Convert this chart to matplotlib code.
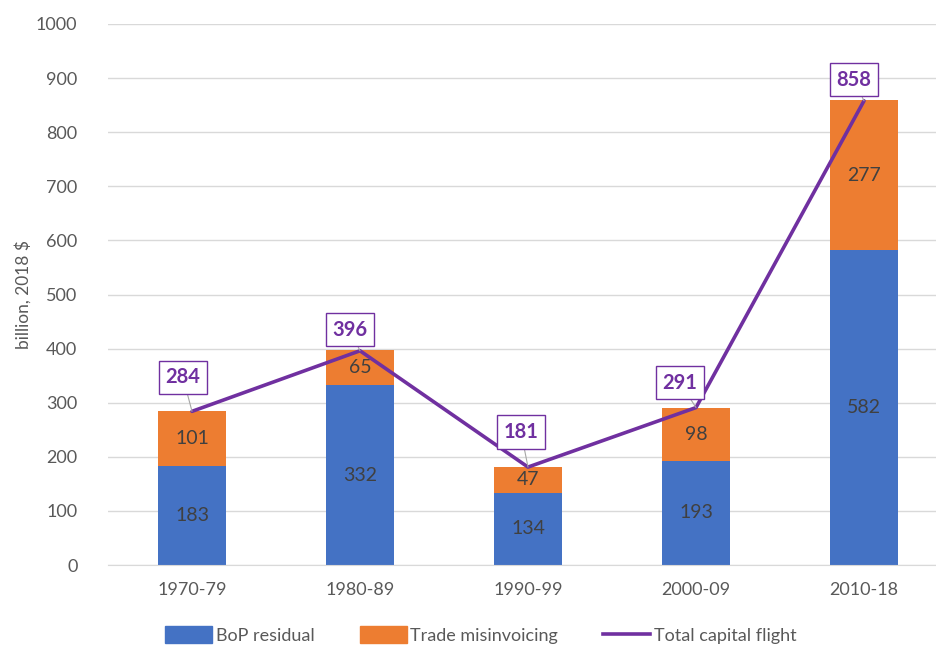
import numpy as np
import matplotlib
matplotlib.use("Agg")
import matplotlib.pyplot as plt
from matplotlib.patches import Patch
from matplotlib.lines import Line2D

# Data
periods = ["1970-79", "1980-89", "1990-99", "2000-09", "2010-18"]
bop_residual = [183, 332, 134, 193, 582]
trade_misinvoicing = [101, 65, 47, 98, 277]
total_flight = [284, 396, 181, 291, 858]

# label box offsets (pixels) relative to line points
label_dx = [-9, -10, -7, -16, -10]
label_dy = [34, 21, 35, 25, 21]

blue = "#4472C4"
orange = "#ED7D31"
purple = "#7030A0"
grey_txt = "#595959"

plt.rcParams["font.family"] = ["Lato", "DejaVu Sans"]

fig = plt.figure(figsize=(9.36, 6.47), dpi=100)
ax = fig.add_axes([108 / 936, 1 - 565 / 647, 1 - 108 / 936, (565 - 24) / 647])

x = np.arange(len(periods))
w = 68 / 168
b1 = ax.bar(x, bop_residual, w, color=blue, zorder=2)
b2 = ax.bar(x, trade_misinvoicing, w, bottom=bop_residual, color=orange, zorder=2)
ax.bar_label(b1, label_type="center", fontsize=14, color="#404040")
ax.bar_label(b2, label_type="center", fontsize=14, color="#404040")

ax.plot(x, total_flight, color=purple, lw=2.6, zorder=3, solid_capstyle="round")

for i, v in enumerate(total_flight):
    ax.annotate(str(v), xy=(x[i], v), xytext=(label_dx[i], label_dy[i]),
                textcoords="offset pixels", ha="center", va="center",
                fontsize=14.5, fontweight="bold", color=purple, zorder=4,
                bbox=dict(boxstyle="square,pad=0.33", fc="white", ec=purple, lw=1),
                arrowprops=dict(arrowstyle="-", color="#A6A6A6", lw=0.8,
                                shrinkA=0, shrinkB=0))

ax.set_xlim(-0.5, 4 + 72 / 168)
ax.set_ylim(0, 1000)
ax.set_yticks(np.arange(0, 1001, 100))
ax.set_xticks(x)
ax.set_xticklabels(periods)
ax.tick_params(axis="both", length=0, labelsize=13, colors=grey_txt)
ax.tick_params(axis="y", pad=22)
ax.tick_params(axis="x", pad=12)
ax.grid(axis="y", color="#D9D9D9", lw=1, zorder=0)
for s in ["top", "right", "left"]:
    ax.spines[s].set_visible(False)
ax.spines["bottom"].set_color("#D9D9D9")
ax.set_ylabel("billion, 2018 $", fontsize=12.5, color=grey_txt, labelpad=3)

handles = [Patch(color=blue, label="BoP residual"),
           Patch(color=orange, label="Trade misinvoicing"),
           Line2D([0], [0], color=purple, lw=2.6, label="Total capital flight")]
leg = fig.legend(handles=handles, loc="center", bbox_to_anchor=(481 / 936, 1 - 635 / 647),
                 ncol=3, frameon=False, fontsize=13, handlelength=2.6, handleheight=1.0,
                 columnspacing=2.5, handletextpad=0.2)
for t in leg.get_texts():
    t.set_color(grey_txt)

fig.savefig("out.png", dpi=100)
